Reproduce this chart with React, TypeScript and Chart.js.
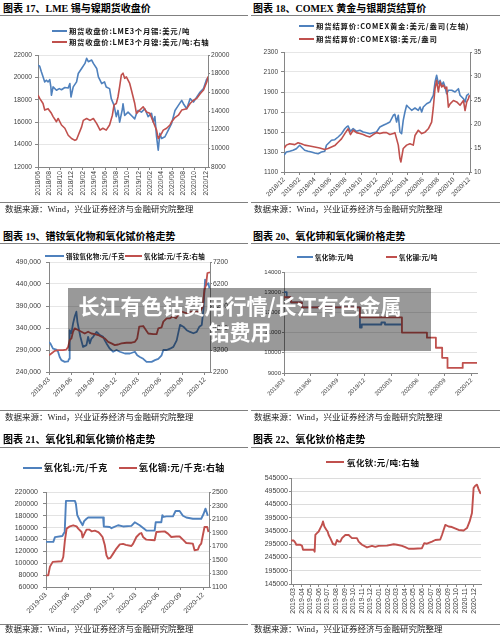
import React, { useEffect, useRef } from "react";
import { Chart, registerables } from "chart.js";

Chart.register(...registerables);

type Pt = [number, number];

const BLUE = "#4F81BD";
const RED = "#C0504D";
const AXIS = "#868686";
const TICK_TEXT = "#404040";
const NUM_FONT = '"Liberation Sans", Arial, sans-serif';
const CJK_FONT = '"Noto Sans CJK SC", sans-serif';
const SERIF_FONT = '"Liberation Serif", "Noto Sans CJK SC", serif';

// ---------- 图表17 LME 锡/镍 (x = months since 2018/06) ----------
const c17Labels = ["2018/06", "2018/08", "2018/10", "2018/12", "2019/02", "2019/04", "2019/06", "2019/08", "2019/10", "2019/12", "2020/02", "2020/04", "2020/06", "2020/08", "2020/10", "2020/12"];
const c17Tin: Pt[] = [[0, 21100], [0.3, 21000], [0.6, 20500], [0.9, 20050], [1.2, 19600], [1.5, 19750], [1.8, 19600], [2.1, 19800], [2.3, 19150], [2.4, 18400], [2.7, 19150], [3.3, 18850], [3.8, 19000], [4.2, 18900], [4.8, 19100], [5.4, 19050], [5.7, 19450], [5.9, 18250], [6.3, 19150], [6.9, 19600], [7.2, 20350], [7.8, 20800], [8.4, 21250], [8.7, 21700], [9.0, 21400], [9.6, 21550], [9.9, 21250], [10.5, 20800], [10.8, 20050], [11.4, 19450], [11.9, 19600], [12.2, 19150], [12.8, 19000], [13.1, 18100], [13.6, 17500], [14.0, 16500], [14.3, 17050], [14.6, 16000], [15.1, 17200], [15.2, 17650], [15.5, 16600], [16.1, 16900], [16.7, 16600], [17.3, 16300], [17.6, 16750], [17.9, 17050], [18.5, 16900], [19.1, 17200], [19.7, 16500], [20.3, 16800], [20.6, 16000], [20.9, 16500], [21.2, 14700], [21.5, 13500], [21.8, 15000], [22.1, 14550], [22.7, 14700], [23.3, 15300], [23.9, 15900], [24.5, 17050], [25.1, 17500], [25.7, 17950], [26.0, 17650], [26.6, 17200], [27.2, 18100], [27.8, 17800], [28.4, 18250], [29.0, 18700], [29.6, 19000], [29.9, 19450], [30.2, 19900]];
const c17Nickel: Pt[] = [[0, 15700], [0.3, 15350], [0.9, 14800], [1.2, 14100], [1.8, 14250], [2.4, 13750], [2.7, 13400], [3.3, 12850], [3.6, 13200], [4.2, 12500], [4.8, 12150], [5.4, 11400], [6.0, 11050], [6.6, 10850], [6.9, 10950], [7.2, 11400], [7.8, 12300], [8.1, 13000], [8.7, 13200], [9.3, 13000], [9.9, 13200], [10.5, 12650], [11.1, 11950], [11.6, 12150], [12.2, 11950], [12.8, 12500], [13.3, 13550], [13.6, 14650], [14.0, 14800], [14.3, 15500], [14.6, 16600], [14.9, 17850], [15.2, 18050], [15.5, 17500], [15.8, 17650], [16.4, 16950], [16.7, 16250], [17.3, 14800], [17.6, 13750], [18.2, 14100], [18.8, 14450], [19.4, 13900], [20.0, 13750], [20.6, 12850], [21.2, 11950], [21.5, 11050], [22.1, 11600], [22.4, 11950], [23.0, 12150], [23.6, 12500], [23.9, 12850], [24.5, 13300], [25.1, 13550], [25.7, 14100], [26.6, 14250], [27.2, 14800], [27.8, 15150], [28.4, 15350], [29.0, 15850], [29.6, 16250], [30.2, 17150], [30.4, 17700]];

// ---------- 图表18 COMEX 黄金/银 (x = months since 2018/12) ----------
const c18Labels = ["2018/12", "2019/02", "2019/04", "2019/06", "2019/08", "2019/10", "2019/12", "2020/02", "2020/04", "2020/06", "2020/08", "2020/10", "2020/12"];
const c18Gold: Pt[] = [[0, 1267], [0.3, 1300], [0.74, 1307], [1.17, 1317], [1.6, 1333], [2.03, 1367], [2.25, 1350], [2.68, 1317], [3.12, 1307], [3.55, 1300], [3.98, 1290], [4.42, 1283], [4.85, 1300], [5.28, 1307], [5.5, 1367], [5.93, 1400], [6.15, 1417], [6.58, 1423], [7.01, 1450], [7.45, 1483], [7.88, 1533], [8.1, 1550], [8.31, 1560], [8.61, 1507], [8.96, 1533], [9.39, 1507], [9.83, 1517], [10.26, 1500], [10.69, 1493], [11.13, 1483], [11.56, 1493], [11.99, 1500], [12.42, 1550], [12.86, 1567], [13.29, 1583], [13.72, 1600], [14.16, 1667], [14.37, 1677], [14.59, 1600], [14.81, 1667], [15.02, 1500], [15.24, 1483], [15.45, 1617], [15.67, 1700], [15.89, 1767], [16.1, 1750], [16.54, 1717], [16.97, 1740], [17.4, 1717], [17.62, 1750], [17.84, 1700], [18.05, 1750], [18.48, 1783], [18.92, 1800], [19.13, 1833], [19.35, 1867], [19.57, 2000], [19.78, 2067], [20.0, 1983], [20.22, 2017], [20.43, 1967], [20.65, 2000], [20.87, 1950], [21.08, 1883], [21.3, 1917], [21.73, 1917], [22.16, 1900], [22.6, 1933], [22.81, 1867], [23.25, 1833], [23.46, 1800], [23.68, 1867], [23.98, 1883]];
const c18Silver: Pt[] = [[0, 14.9], [0.3, 15.6], [0.74, 15.9], [1.39, 15.7], [1.82, 16.1], [2.25, 15.9], [2.68, 15.6], [3.33, 15.4], [3.98, 15.2], [4.63, 15.0], [5.28, 14.7], [5.71, 14.9], [6.15, 15.2], [6.58, 15.5], [7.01, 16.2], [7.45, 16.9], [7.88, 18.0], [8.31, 19.0], [8.61, 17.8], [8.96, 18.7], [9.39, 18.2], [9.83, 18.0], [10.26, 17.8], [10.69, 17.5], [11.13, 17.3], [11.56, 17.8], [11.99, 18.2], [12.42, 18.0], [12.86, 18.2], [13.29, 18.2], [13.72, 17.8], [14.16, 18.0], [14.37, 18.2], [14.59, 16.9], [14.81, 15.6], [15.02, 12.8], [15.15, 12.1], [15.45, 14.9], [15.89, 15.6], [16.32, 15.9], [16.75, 15.6], [16.97, 17.6], [17.4, 18.7], [17.84, 18.0], [18.27, 18.3], [18.7, 19.0], [19.13, 20.4], [19.35, 23.5], [19.57, 27.4], [19.78, 29.1], [20.0, 26.7], [20.22, 28.8], [20.43, 27.7], [20.65, 28.1], [20.87, 27.4], [21.08, 27.7], [21.3, 23.5], [21.52, 24.2], [21.95, 24.9], [22.38, 24.6], [22.81, 23.9], [23.25, 24.9], [23.46, 22.8], [23.68, 24.6], [23.9, 25.3], [24.03, 26.0]];

// ---------- 图表19 镨钕氧化物/氧化铽 (x = months since 2019-03) ----------
const c19Labels = ["2019-03", "2019-06", "2019-09", "2019-12", "2020-03", "2020-06", "2020-09", "2020-12"];
const c19PrNd: Pt[] = [[0, 308000], [0.18, 305000], [0.54, 293000], [0.99, 291000], [1.22, 286000], [1.44, 274000], [1.67, 267000], [2.12, 263000], [2.57, 264000], [2.7, 270000], [2.79, 335000], [3.02, 328000], [3.24, 350000], [3.47, 366000], [3.69, 377000], [3.83, 354000], [4.05, 335000], [4.23, 320000], [4.59, 297000], [5.05, 301000], [5.27, 320000], [5.5, 305000], [5.72, 316000], [5.95, 320000], [6.4, 331000], [6.62, 328000], [6.85, 324000], [7.3, 320000], [7.52, 312000], [7.75, 305000], [8.2, 293000], [8.65, 286000], [9.1, 290000], [9.55, 286000], [10.23, 282000], [10.9, 282000], [11.58, 286000], [11.89, 278000], [12.25, 274000], [12.7, 270000], [13.15, 263000], [13.83, 263000], [14.28, 267000], [14.73, 270000], [15.18, 278000], [15.41, 290000], [15.86, 290000], [16.31, 293000], [16.76, 297000], [17.21, 312000], [17.66, 347000], [18.11, 343000], [18.56, 335000], [19.01, 331000], [19.46, 328000], [19.91, 331000], [20.27, 343000], [20.59, 347000], [20.81, 381000], [21.04, 450000], [21.26, 438000], [21.49, 442000], [21.62, 430000]];
const c19Tb: Pt[] = [[0, 2960], [0.32, 3040], [0.77, 3160], [1.22, 3190], [1.89, 3190], [2.34, 3220], [2.57, 3340], [2.79, 3650], [3.02, 3725], [3.24, 4030], [3.47, 4180], [3.92, 4110], [4.37, 4030], [4.82, 3950], [5.27, 4030], [5.72, 3950], [6.17, 3920], [6.62, 3880], [7.07, 3800], [7.52, 3725], [7.97, 3570], [8.42, 3500], [8.87, 3420], [9.32, 3450], [9.77, 3500], [10.45, 3530], [11.13, 3530], [11.58, 3570], [11.89, 3725], [12.16, 4260], [12.7, 4290], [13.06, 4110], [13.38, 3950], [14.05, 3920], [14.5, 3920], [14.73, 4180], [15.18, 4230], [15.41, 4490], [15.86, 4640], [16.31, 4640], [16.67, 4720], [17.12, 4640], [17.43, 4790], [17.88, 4940], [18.56, 4870], [19.01, 4940], [19.68, 4940], [20.36, 4940], [20.72, 5170], [20.95, 5935], [21.17, 6160], [21.35, 6700], [21.7, 6730]];

// ---------- 图表20 氧化铈/氧化镧 (x = months since 2019/03) ----------
const c20Labels = ["2019/03", "2019/06", "2019/09", "2019/12", "2020/03", "2020/06", "2020/09", "2020/12"];
const c20Ce: Pt[] = [[0, 13000], [0.3, 12750], [0.8, 12500], [2.0, 12250], [8.5, 11250], [8.7, 11400], [10.9, 11500], [11.3, 11400], [13.2, 11400]];
const c20La: Pt[] = [[0, 12750], [0.8, 12500], [2.0, 12250], [8.5, 11750], [13.2, 11000], [16.0, 10750], [17.0, 10250], [17.7, 9750], [18.3, 9250], [20.0, 9500], [21.6, 9500]];

// ---------- 图表21 氧化钆/氧化镝 (x = months since 2019-03) ----------
const c21Labels = ["2019-03", "2019-06", "2019-09", "2019-12", "2020-03", "2020-06", "2020-09", "2020-12"];
const c21Gd: Pt[] = [[0, 136000], [0.98, 136000], [1.2, 144000], [2.2, 146000], [2.4, 151000], [2.5, 152000], [2.67, 205000], [3.87, 205000], [4.0, 200000], [4.18, 181000], [4.53, 172000], [4.9, 164000], [5.1, 171000], [5.42, 175000], [5.64, 177000], [7.64, 177000], [7.73, 162000], [8.53, 161000], [8.76, 159000], [9.64, 164000], [10.3, 162000], [11.42, 163000], [11.87, 169000], [12.53, 164000], [13.42, 155000], [14.53, 155000], [14.67, 169000], [15.42, 169000], [15.56, 181000], [15.73, 178000], [16.1, 179000], [16.98, 179000], [17.33, 188000], [17.87, 188000], [18.31, 180000], [18.76, 177000], [19.64, 175000], [20.76, 175000], [21.07, 183000], [21.33, 192000], [21.64, 180000]];
const c21Dy: Pt[] = [[0, 1272], [0.3, 1272], [0.53, 1400], [0.9, 1470], [2.1, 1480], [2.31, 1542], [2.53, 1788], [2.76, 1960], [3.2, 1994], [3.64, 2009], [4.09, 1994], [4.31, 1960], [4.76, 1910], [4.89, 1828], [5.11, 1880], [5.42, 1946], [5.78, 1946], [6.09, 1920], [6.53, 1930], [6.98, 1910], [7.2, 1887], [7.56, 1837], [7.87, 1714], [8.09, 1567], [8.31, 1518], [8.62, 1530], [8.98, 1592], [9.42, 1666], [9.87, 1729], [10.31, 1735], [10.67, 1720], [11.42, 1704], [11.64, 1735], [12.09, 1837], [12.53, 1887], [12.76, 1895], [12.98, 1837], [13.42, 1798], [14.53, 1788], [14.76, 1910], [15.87, 1920], [16.31, 1887], [16.76, 1837], [17.42, 1845], [17.87, 1845], [18.31, 1798], [18.76, 1749], [19.64, 1739], [19.87, 1641], [20.31, 1650], [20.53, 1710], [20.76, 1739], [20.98, 1862], [21.2, 1984], [21.56, 1984], [21.73, 1910]];

// ---------- 图表22 氧化钬 (x = months since 2019-03) ----------
const c22Labels = ["2019-03", "2019-04", "2019-05", "2019-06", "2019-07", "2019-08", "2019-09", "2019-10", "2019-11", "2019-12", "2020-01", "2020-02", "2020-03", "2020-04", "2020-05", "2020-06", "2020-07", "2020-08", "2020-09", "2020-10", "2020-11", "2020-12"];
const c22Ho: Pt[] = [[0, 309000], [0.31, 309000], [0.5, 301000], [0.62, 293000], [1.09, 293000], [1.28, 289000], [1.4, 274000], [2.64, 274000], [2.75, 267000], [2.83, 330000], [3.02, 337000], [3.22, 343000], [3.41, 356000], [3.6, 368000], [3.72, 381000], [3.88, 362000], [4.11, 350000], [4.26, 343000], [4.38, 330000], [4.57, 318000], [4.88, 296000], [5.16, 293000], [5.35, 311000], [5.54, 305000], [5.74, 305000], [5.93, 318000], [6.32, 330000], [6.71, 330000], [6.9, 324000], [7.09, 318000], [7.67, 318000], [7.87, 305000], [8.26, 293000], [8.84, 283000], [9.42, 289000], [9.81, 285000], [10.19, 289000], [11.16, 290000], [11.94, 295000], [12.33, 293000], [12.91, 289000], [13.29, 284000], [13.68, 278000], [14.26, 278000], [15.23, 280000], [15.5, 299000], [15.81, 297000], [16.4, 305000], [16.78, 311000], [17.36, 313000], [17.56, 330000], [17.75, 349000], [17.95, 368000], [18.33, 362000], [18.72, 360000], [19.5, 349000], [20.08, 347000], [20.47, 356000], [20.78, 381000], [21.05, 413000], [21.24, 507000], [21.43, 516000], [21.63, 520000], [21.82, 503000], [22.02, 488000], [22.1, 487000]];

// ---------- generic chart ----------
type YAxis = { min: number; max: number; step: number; fmt: (v: number) => string; width: number; gap: number; tick: number; font: number };
type Series = { data: Pt[]; color: string; right?: boolean; width: number; stepped?: boolean };
type Spec = {
  plot: { L: number; T: number; R: number; B: number };
  x: { max: number; step: number; offset: number; labels: string[]; rotation: number; height: number; font: number };
  left: YAxis;
  right?: YAxis;
  grid: string;
  series: Series[];
};

const plain = (v: number) => String(v);
const comma = (v: number) => v.toLocaleString("en-US");
const PAD = 10;

function yScale(a: YAxis, position: "left" | "right", grid: string | null) {
  return {
    type: "linear",
    position,
    min: a.min,
    max: a.max,
    afterFit: (s: any) => {
      s.width = a.width;
    },
    ticks: {
      stepSize: a.step,
      padding: a.gap,
      color: TICK_TEXT,
      font: { family: NUM_FONT, size: a.font },
      callback: (v: any) => a.fmt(Number(v)),
    },
    grid: {
      drawOnChartArea: !!grid,
      color: grid || "rgba(0,0,0,0)",
      lineWidth: 1,
      drawTicks: a.tick > 0,
      tickLength: a.tick,
      tickColor: AXIS,
    },
    border: { display: true, color: AXIS, width: 1 },
  };
}

function LineChart({ spec }: { spec: Spec }) {
  const ref = useRef<HTMLCanvasElement | null>(null);
  const { L, T, R, B } = spec.plot;
  const rightW = spec.right ? spec.right.width : 0;
  const left = L - spec.left.width - PAD;
  const top = T - PAD;
  const width = R - L + spec.left.width + rightW + 2 * PAD;
  const height = B - T + spec.x.height + 2 * PAD;

  useEffect(() => {
    if (!ref.current) return;
    const xs = spec.x;
    const scales: any = {
      x: {
        type: "linear",
        min: 0,
        max: xs.max,
        afterBuildTicks: (s: any) => {
          s.ticks = xs.labels.map((_, i) => ({ value: xs.offset + i * xs.step }));
        },
        afterFit: (s: any) => {
          s.height = xs.height;
        },
        ticks: {
          autoSkip: false,
          minRotation: xs.rotation,
          maxRotation: xs.rotation,
          padding: 1,
          color: TICK_TEXT,
          font: { family: NUM_FONT, size: xs.font },
          callback: (_v: any, i: number) => xs.labels[i] ?? "",
        },
        grid: { drawOnChartArea: false, drawTicks: true, tickLength: 3, tickColor: AXIS },
        border: { display: true, color: AXIS, width: 1 },
      },
      y: yScale(spec.left, "left", spec.grid),
    };
    if (spec.right) scales.y1 = yScale(spec.right, "right", null);

    const chart = new Chart(ref.current, {
      type: "line",
      data: {
        datasets: spec.series.map((s, i) => ({
          data: s.data.map(([x, y]) => ({ x, y })),
          borderColor: s.color,
          backgroundColor: s.color,
          borderWidth: s.width,
          pointRadius: 0,
          fill: false,
          tension: 0,
          stepped: s.stepped ? "before" : false,
          yAxisID: s.right ? "y1" : "y",
          order: spec.series.length - i,
          borderJoinStyle: "round",
        })) as any,
      },
      options: {
        responsive: false,
        maintainAspectRatio: false,
        animation: false,
        events: [],
        layout: { padding: { left: PAD, right: PAD, top: PAD, bottom: PAD } },
        plugins: { legend: { display: false }, tooltip: { enabled: false }, title: { display: false } },
        scales,
      } as any,
    });
    return () => chart.destroy();
  }, []);

  return (
    <canvas
      ref={ref}
      width={width}
      height={height}
      style={{ position: "absolute", left, top, width, height }}
    />
  );
}

// ---------- chart specs ----------
const SPECS: Spec[] = [
  {
    plot: { L: 38, T: 55, R: 208, B: 167 },
    x: { max: 30.4, step: 2, offset: 0, labels: c17Labels, rotation: 90, height: 30, font: 6.8 },
    left: { min: 12000, max: 22000, step: 2000, fmt: plain, width: 30, gap: 3, tick: 3, font: 6.6 },
    right: { min: 8000, max: 20000, step: 2000, fmt: plain, width: 28, gap: 1, tick: 2, font: 6.6 },
    grid: "#e6e6e6",
    series: [
      { data: c17Tin, color: BLUE, width: 1.6 },
      { data: c17Nickel, color: RED, right: true, width: 1.6 },
    ],
  },
  {
    plot: { L: 284, T: 52, R: 470, B: 172 },
    x: { max: 24.1, step: 2, offset: 0, labels: c18Labels, rotation: 45, height: 30, font: 6.5 },
    left: { min: 1100, max: 2300, step: 200, fmt: plain, width: 28, gap: 3, tick: 3, font: 6.5 },
    right: { min: 10, max: 35, step: 5, fmt: plain, width: 20, gap: 2, tick: 2, font: 6.5 },
    grid: "#e6e6e6",
    series: [
      { data: c18Gold, color: BLUE, width: 1.6 },
      { data: c18Silver, color: RED, right: true, width: 1.6 },
    ],
  },
  {
    plot: { L: 49, T: 262, R: 210, B: 372 },
    x: { max: 21.7, step: 3, offset: 0, labels: c19Labels, rotation: 45, height: 28, font: 6.5 },
    left: { min: 240000, max: 490000, step: 50000, fmt: comma, width: 40, gap: 5, tick: 3, font: 7 },
    right: { min: 2200, max: 7200, step: 500, fmt: plain, width: 24, gap: 1, tick: 2, font: 6.8 },
    grid: "#e6e6e6",
    series: [
      { data: c19PrNd, color: BLUE, width: 1.8 },
      { data: c19Tb, color: RED, right: true, width: 1.8 },
    ],
  },
  {
    plot: { L: 284, T: 272, R: 477, B: 373 },
    x: { max: 21.6, step: 3, offset: 0, labels: c20Labels, rotation: 45, height: 28, font: 6 },
    left: { min: 9000, max: 14000, step: 500, fmt: plain, width: 26, gap: 1, tick: 2, font: 6 },
    grid: "#e3e3e3",
    series: [
      { data: c20Ce, color: BLUE, width: 1.8, stepped: true },
      { data: c20La, color: RED, width: 1.8, stepped: true },
    ],
  },
  {
    plot: { L: 46, T: 492, R: 209, B: 587 },
    x: { max: 21.8, step: 3, offset: 0, labels: c21Labels, rotation: 45, height: 28, font: 7 },
    left: { min: 60000, max: 220000, step: 20000, fmt: plain, width: 34, gap: 5, tick: 3, font: 7 },
    right: { min: 1100, max: 2500, step: 200, fmt: plain, width: 24, gap: 1, tick: 2, font: 7 },
    grid: "#e3e3e3",
    series: [
      { data: c21Gd, color: BLUE, width: 1.9 },
      { data: c21Dy, color: RED, right: true, width: 1.9 },
    ],
  },
  {
    plot: { L: 291, T: 478, R: 481, B: 584 },
    x: { max: 22.1, step: 1, offset: 0.25, labels: c22Labels, rotation: 90, height: 34, font: 7 },
    left: { min: 145000, max: 545000, step: 50000, fmt: plain, width: 34, gap: 1, tick: 2, font: 7 },
    grid: "#dcdcdc",
    series: [{ data: c22Ho, color: RED, width: 1.9 }],
  },
];

// ---------- text ----------
const TITLES = [
  { text: "图表 17、LME 锡与镍期货收盘价", x: 3, y: 8.5 },
  { text: "图表 18、COMEX 黄金与银期货结算价", x: 253, y: 8.5 },
  { text: "图表 19、镨钕氧化物和氧化铽价格走势", x: 3, y: 236.5 },
  { text: "图表 20、氧化铈和氧化镧价格走势", x: 253, y: 236.5 },
  { text: "图表 21、氧化钆和氧化镝价格走势", x: 3, y: 440 },
  { text: "图表 22、氧化钬价格走势", x: 253, y: 440 },
];
const SOURCE_TEXT = "数据来源：Wind，兴业证券经济与金融研究院整理";
const SOURCES = [
  { x: 5, y: 209.5 },
  { x: 254, y: 209.5 },
  { x: 5, y: 417 },
  { x: 254, y: 417 },
  { x: 5, y: 629 },
  { x: 254, y: 629 },
];
const RULES_Y = [15, 202, 243, 410, 447, 624];

type LegendItem = { x1: number; x2: number; tx: number; y: number; color: string; text: string; size: number; ls: number };
const LEGENDS: LegendItem[] = [
  { x1: 52, x2: 67, tx: 69, y: 30.7, color: BLUE, text: "期货收盘价:LME3个月锡:美元/吨", size: 7.4, ls: 0.7 },
  { x1: 52, x2: 67, tx: 69, y: 41.7, color: RED, text: "期货收盘价:LME3个月镍:美元/吨:右轴", size: 7.4, ls: 0.7 },
  { x1: 299, x2: 314, tx: 316, y: 26, color: BLUE, text: "期货结算价:COMEX黄金:美元/盎司(左轴)", size: 7.4, ls: 0.8 },
  { x1: 299, x2: 314, tx: 316, y: 39.3, color: RED, text: "期货结算价:COMEX银:美元/盎司", size: 7.4, ls: 0.8 },
  { x1: 45, x2: 64, tx: 66, y: 255.7, color: BLUE, text: "镨钕氧化物:元/千克", size: 6.5, ls: 0.2 },
  { x1: 125, x2: 142, tx: 144, y: 255.7, color: RED, text: "氧化铽:元/千克:右轴", size: 6.5, ls: 0.2 },
  { x1: 297, x2: 313, tx: 315, y: 256.7, color: BLUE, text: "氧化铈:元/吨", size: 6.5, ls: 0.2 },
  { x1: 386, x2: 397, tx: 399, y: 256.7, color: RED, text: "氧化镧:元/吨", size: 6.5, ls: 0.2 },
  { x1: 23, x2: 42, tx: 44, y: 468.3, color: BLUE, text: "氧化钆:元/千克", size: 9, ls: 0.4 },
  { x1: 119, x2: 137, tx: 139, y: 468.3, color: RED, text: "氧化镝:元/千克:右轴", size: 9, ls: 0.4 },
  { x1: 326, x2: 344, tx: 347, y: 462.3, color: RED, text: "氧化钬:元/吨:右轴", size: 8.5, ls: 0.4 },
];

export default function App() {
  return (
    <div
      style={{
        position: "absolute",
        left: 0,
        top: 0,
        width: 500,
        height: 639,
        background: "#ffffff",
        overflow: "hidden",
      }}
    >
      {SPECS.map((s, i) => (
        <LineChart key={i} spec={s} />
      ))}
      {RULES_Y.map((y, i) => (
        <React.Fragment key={"r" + i}>
          <div style={{ position: "absolute", left: 0, top: y, width: 248, height: 1, background: "#808080" }} />
          <div style={{ position: "absolute", left: 251, top: y, width: 249, height: 1, background: "#808080" }} />
        </React.Fragment>
      ))}
      {TITLES.map((t, i) => (
        <div
          key={"t" + i}
          style={{
            position: "absolute",
            left: t.x,
            top: t.y - 6,
            lineHeight: "12px",
            fontSize: 10,
            fontWeight: "bold",
            fontFamily: SERIF_FONT,
            color: "#000",
            whiteSpace: "nowrap",
          }}
        >
          {t.text}
        </div>
      ))}
      {SOURCES.map((s, i) => (
        <div
          key={"s" + i}
          style={{
            position: "absolute",
            left: s.x,
            top: s.y - 5.5,
            lineHeight: "11px",
            fontSize: 8.5,
            fontFamily: SERIF_FONT,
            color: "#222",
            whiteSpace: "nowrap",
          }}
        >
          {SOURCE_TEXT}
        </div>
      ))}
      {LEGENDS.map((l, i) => (
        <React.Fragment key={"l" + i}>
          <div
            style={{
              position: "absolute",
              left: l.x1,
              top: l.y - 1,
              width: l.x2 - l.x1,
              height: 2,
              background: l.color,
            }}
          />
          <div
            style={{
              position: "absolute",
              left: l.tx,
              top: l.y - 6,
              lineHeight: "12px",
              fontSize: l.size,
              letterSpacing: l.ls,
              fontWeight: "bold",
              fontFamily: CJK_FONT,
              color: "#111",
              whiteSpace: "nowrap",
            }}
          >
            {l.text}
          </div>
        </React.Fragment>
      ))}
      <div
        style={{
          position: "absolute",
          left: 68,
          top: 288,
          width: 363,
          height: 63,
          background: "rgba(0,0,0,0.4)",
        }}
      />
      <div
        style={{
          position: "absolute",
          left: 0,
          top: 292,
          width: 480,
          textAlign: "center",
          color: "#ffffff",
          fontSize: 21,
          fontWeight: "bold",
          lineHeight: "26px",
          fontFamily: CJK_FONT,
        }}
      >
        长江有色钴费用行情/长江有色金属
        <br />
        钴费用
      </div>
    </div>
  );
}
